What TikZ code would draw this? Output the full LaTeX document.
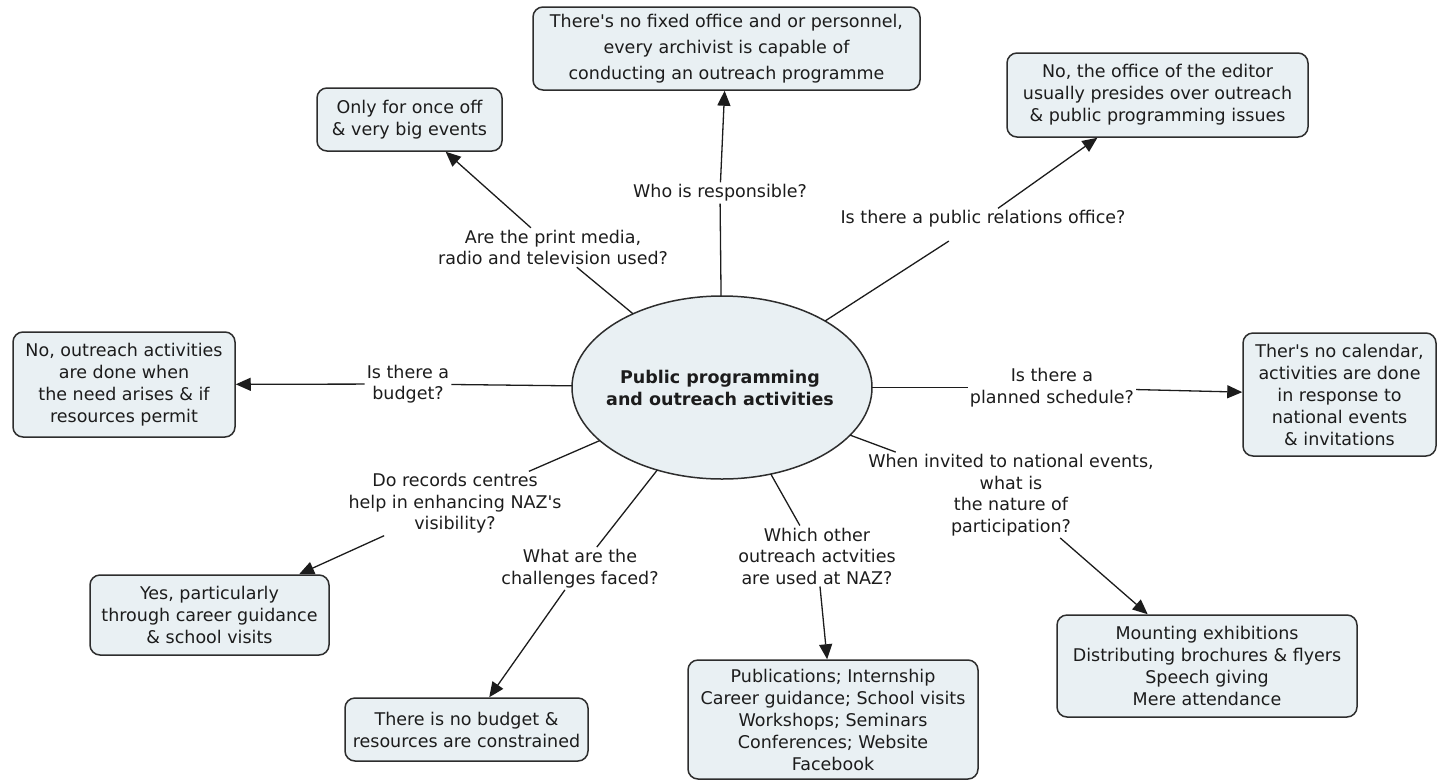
\documentclass[tikz,border=0pt]{standalone}
\usepackage{fontspec}
\setmainfont{DejaVu Sans}
\usetikzlibrary{shapes.geometric,arrows.meta}
\definecolor{boxfill}{RGB}{233,240,243}
\definecolor{ink}{RGB}{28,28,28}
\definecolor{edge}{RGB}{45,45,45}
\newcommand{\apo}{\textquotesingle}
\begin{document}
\begin{tikzpicture}[x=1pt,y=-1pt,
  txt/.style={font=\fontsize{17.5}{21.5}\selectfont, text=ink, align=center},
  answer/.style args={#1/#2}{txt, font=\fontsize{17.5}{22}\selectfont,
    draw=edge, line width=1.5pt, fill=boxfill,
    rounded corners=10pt, inner sep=0pt, minimum width=#1pt, minimum height=#2pt},
  question/.style={txt, inner sep=2pt},
  hub/.style={ellipse, draw=edge, line width=1.5pt, fill=boxfill,
    minimum width=300pt, minimum height=183pt, inner sep=0pt, outer sep=0pt},
  link/.style={line width=1.3pt, draw=ink},
  arr/.style={link, -{Triangle[length=15pt,width=13pt]}}]
\useasboundingbox (0,0) rectangle (1438,780);

% central concept
\node[hub] (ell) at (722,387.5) {};
\node[font=\fontsize{17.5}{21.5}\selectfont\bfseries, text=ink, align=center]
  (hubtext) at (720,388) {Public programming\\and outreach activities};

% answers
\node[answer=387/83, font=\fontsize{17.5}{26}\selectfont] (staff) at (726.5,48.5)
  {There\apo s no fixed office and or personnel,\\every archivist is capable of\\conducting an outreach programme};
\node[answer=185/63] (media) at (409.5,119.5) {Only for once off\\\& very big events};
\node[answer=301/84] (editor) at (1157.5,95)
  {No, the office of the editor\\usually presides over outreach\\\& public programming issues};
\node[answer=222/105] (need) at (124,384.5)
  {No, outreach activities\\are done when\\the need arises \& if\\resources permit};
\node[answer=193/123] (calendar) at (1339.5,394.5)
  {Ther\apo s no calendar,\\activities are done\\in response to\\national events\\\& invitations};
\node[answer=239/80] (visits) at (209.5,615)
  {Yes, particularly\\through career guidance\\\& school visits};
\node[answer=243/63] (constr) at (466.5,729.5)
  {There is no budget \&\\resources are constrained};
\node[answer=290/119] (other) at (833,719.5)
  {Publications; Internship\\Career guidance; School visits\\Workshops; Seminars\\Conferences; Website\\Facebook};
\node[answer=300/102] (events) at (1207,666)
  {Mounting exhibitions\\Distributing brochures \& flyers\\Speech giving\\Mere attendance};

% questions on the links
\node[question] (q-who) at (720,193) {Who is responsible?};
\node[question] (q-media) at (553,247.5) {Are the print media,\\radio and television used?};
\node[question] (q-pr) at (983,219) {Is there a public relations office?};
\node[question] (q-budget) at (408,384) {Is there a\\budget?};
\node[question] (q-sched) at (1052,387.5) {Is there a\\planned schedule?};
\node[question] (q-nat) at (1011,495)
  {When invited to national events,\\what is\\the nature of\\participation?};
\node[question] (q-other) at (817,556) {Which other\\outreach actvities\\are used at NAZ?};
\node[question] (q-chal) at (580,568.5) {What are the\\challenges faced?};
\node[question] (q-rec) at (455,503.5)
  {Do records centres\\help in enhancing NAZ\apo s\\visibility?};

% links
\draw[link] (ell) -- (q-who);    \draw[arr] (q-who) -- (staff);
\draw[link] (ell) -- (q-media);  \draw[arr] (q-media) -- (media);
\draw[link, shorten >=21pt] (ell) -- (q-pr); \draw[arr] (q-pr) -- (editor);
\draw[link] (ell) -- (q-budget); \draw[arr] (q-budget) -- (need);
\draw[link] (ell) -- (q-sched);  \draw[arr] (q-sched) -- (calendar);
\draw[link] (ell) -- (q-nat);    \draw[arr] (q-nat) -- (events);
\draw[link] (ell) -- (q-other);  \draw[arr] (q-other) -- (other);
\draw[link] (ell) -- (q-chal);   \draw[arr] (q-chal) -- (constr);
\draw[link] (ell) -- (q-rec);    \draw[arr] (q-rec) -- (visits);
\end{tikzpicture}
\end{document}
